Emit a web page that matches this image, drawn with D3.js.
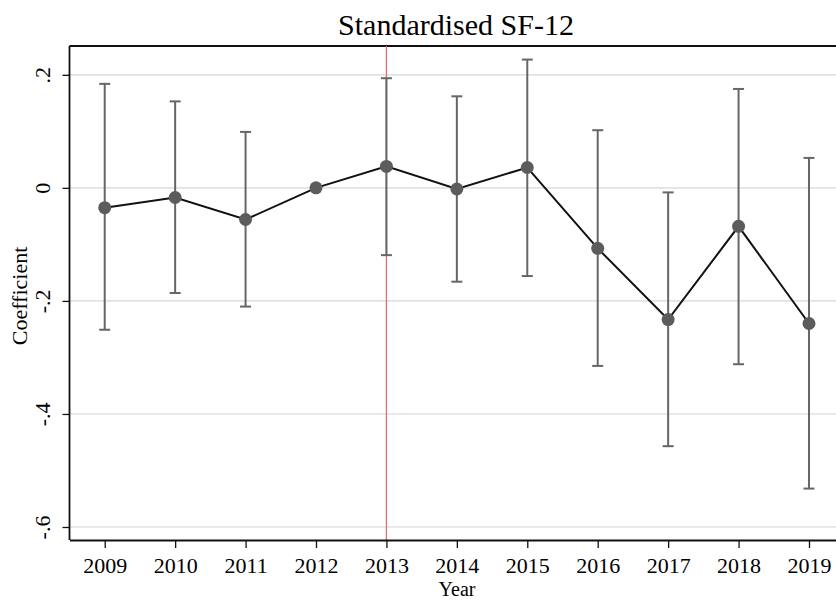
<!DOCTYPE html>
<meta charset="utf-8">
<script src="https://d3js.org/d3.v7.min.js"></script>
<style>
  body { margin: 0; background: #fff; }
  text { font-family: "Liberation Serif", "Times New Roman", serif; fill: #000; }
</style>
<div id="chart"></div>
<script>

// data
var years = [2009, 2010, 2011, 2012, 2013, 2014, 2015, 2016, 2017, 2018, 2019];
var coef  = [-0.035, -0.017, -0.056, 0, 0.038, -0.002, 0.036, -0.107, -0.233, -0.068, -0.240];
var ciLow = [-0.251, -0.186, -0.210, null, -0.119, -0.166, -0.156, -0.315, -0.457, -0.312, -0.532];
var ciHigh = [0.184, 0.153, 0.099, null, 0.194, 0.162, 0.227, 0.102, -0.008, 0.175, 0.053];
var yTicks = [0.2, 0, -0.2, -0.4, -0.6];
var yTickLabels = [".2", "0", "-.2", "-.4", "-.6"];
var refYear = 2013;

var W = 836, H = 601;
var plotLeft = 69.5, plotTop = 46, plotBottom = 540, plotRight = 844.2;

var svg = d3.select("#chart").append("svg")
  .attr("width", W)
  .attr("height", H);

var x = d3.scaleLinear().domain([2008.5, 2019.5]).range([plotLeft, plotRight]);
var y = d3.scaleLinear().domain([-0.623, 0.251]).range([plotBottom, plotTop]);

// gridlines
svg.append("g").selectAll("line")
  .data(yTicks)
  .enter().append("line")
    .attr("x1", plotLeft).attr("x2", plotRight)
    .attr("y1", d => y(d)).attr("y2", d => y(d))
    .style("stroke", "#e2e2e2")
    .style("stroke-width", 1.6);

// frame top
svg.append("line")
  .attr("x1", plotLeft).attr("x2", plotRight)
  .attr("y1", plotTop).attr("y2", plotTop)
  .style("stroke", "#111").style("stroke-width", 1.8);

// reference year line
svg.append("line")
  .attr("x1", x(refYear)).attr("x2", x(refYear))
  .attr("y1", plotTop).attr("y2", plotBottom)
  .style("stroke", "#e07070").style("stroke-width", 1.3);

// y axis
var yAxis = svg.append("g")
  .attr("transform", "translate(" + plotLeft + ",0)")
  .call(d3.axisLeft(y).tickValues(yTicks).tickSize(7).tickSizeOuter(0)
    .tickFormat((d, i) => yTickLabels[i]));
yAxis.select(".domain").attr("d", "M0," + plotTop + "V" + plotBottom).style("stroke", "#111").style("stroke-width", 1.8);
yAxis.selectAll(".tick line").style("stroke", "#111").style("stroke-width", 1.3);
yAxis.selectAll("text")
  .attr("x", null).attr("dy", null)
  .attr("transform", "translate(-20,0) rotate(-90)")
  .style("text-anchor", "middle")
  .style("font-size", "22px")
  .style("font-family", "Liberation Serif");

// x axis
var xAxis = svg.append("g")
  .attr("transform", "translate(0," + plotBottom + ")")
  .call(d3.axisBottom(x).tickValues(years).tickSize(8).tickSizeOuter(0)
    .tickFormat(d3.format("d")));
xAxis.select(".domain").style("stroke", "#111").style("stroke-width", 1.8);
xAxis.selectAll(".tick line").style("stroke", "#111").style("stroke-width", 1.3);
xAxis.selectAll("text")
  .attr("y", 33).attr("dy", null)
  .style("font-size", "22px")
  .style("font-family", "Liberation Serif");

// error bars
var rows = years.map((d, i) => ({year: d, b: coef[i], lo: ciLow[i], hi: ciHigh[i]}));
var withCI = rows.filter(d => d.lo !== null);
var capHalf = 5.5;

var eb = svg.append("g").style("stroke", "#666").style("stroke-width", 2);
eb.selectAll(".stem").data(withCI).enter().append("line")
  .attr("x1", d => x(d.year)).attr("x2", d => x(d.year))
  .attr("y1", d => y(d.lo)).attr("y2", d => y(d.hi));
eb.selectAll(".capHi").data(withCI).enter().append("line")
  .attr("x1", d => x(d.year) - capHalf).attr("x2", d => x(d.year) + capHalf)
  .attr("y1", d => y(d.hi)).attr("y2", d => y(d.hi));
eb.selectAll(".capLo").data(withCI).enter().append("line")
  .attr("x1", d => x(d.year) - capHalf).attr("x2", d => x(d.year) + capHalf)
  .attr("y1", d => y(d.lo)).attr("y2", d => y(d.lo));

// connecting line
svg.append("path")
  .datum(rows)
  .attr("d", d3.line().x(d => x(d.year)).y(d => y(d.b)))
  .style("fill", "none")
  .style("stroke", "#111")
  .style("stroke-width", 2);

// points
svg.append("g").selectAll("circle")
  .data(rows)
  .enter().append("circle")
    .attr("cx", d => x(d.year))
    .attr("cy", d => y(d.b))
    .attr("r", 6.5)
    .style("fill", "#5c5c5c");

// title
svg.append("text")
  .attr("x", 456)
  .attr("y", 35)
  .attr("text-anchor", "middle")
  .style("font-size", "30px")
  .text("Standardised SF-12");

// axis titles
svg.append("text")
  .attr("x", 457)
  .attr("y", 596)
  .attr("text-anchor", "middle")
  .style("font-size", "20px")
  .text("Year");

svg.append("text")
  .attr("transform", "translate(27,296) rotate(-90)")
  .attr("text-anchor", "middle")
  .style("font-size", "22px")
  .text("Coefficient");

</script>
